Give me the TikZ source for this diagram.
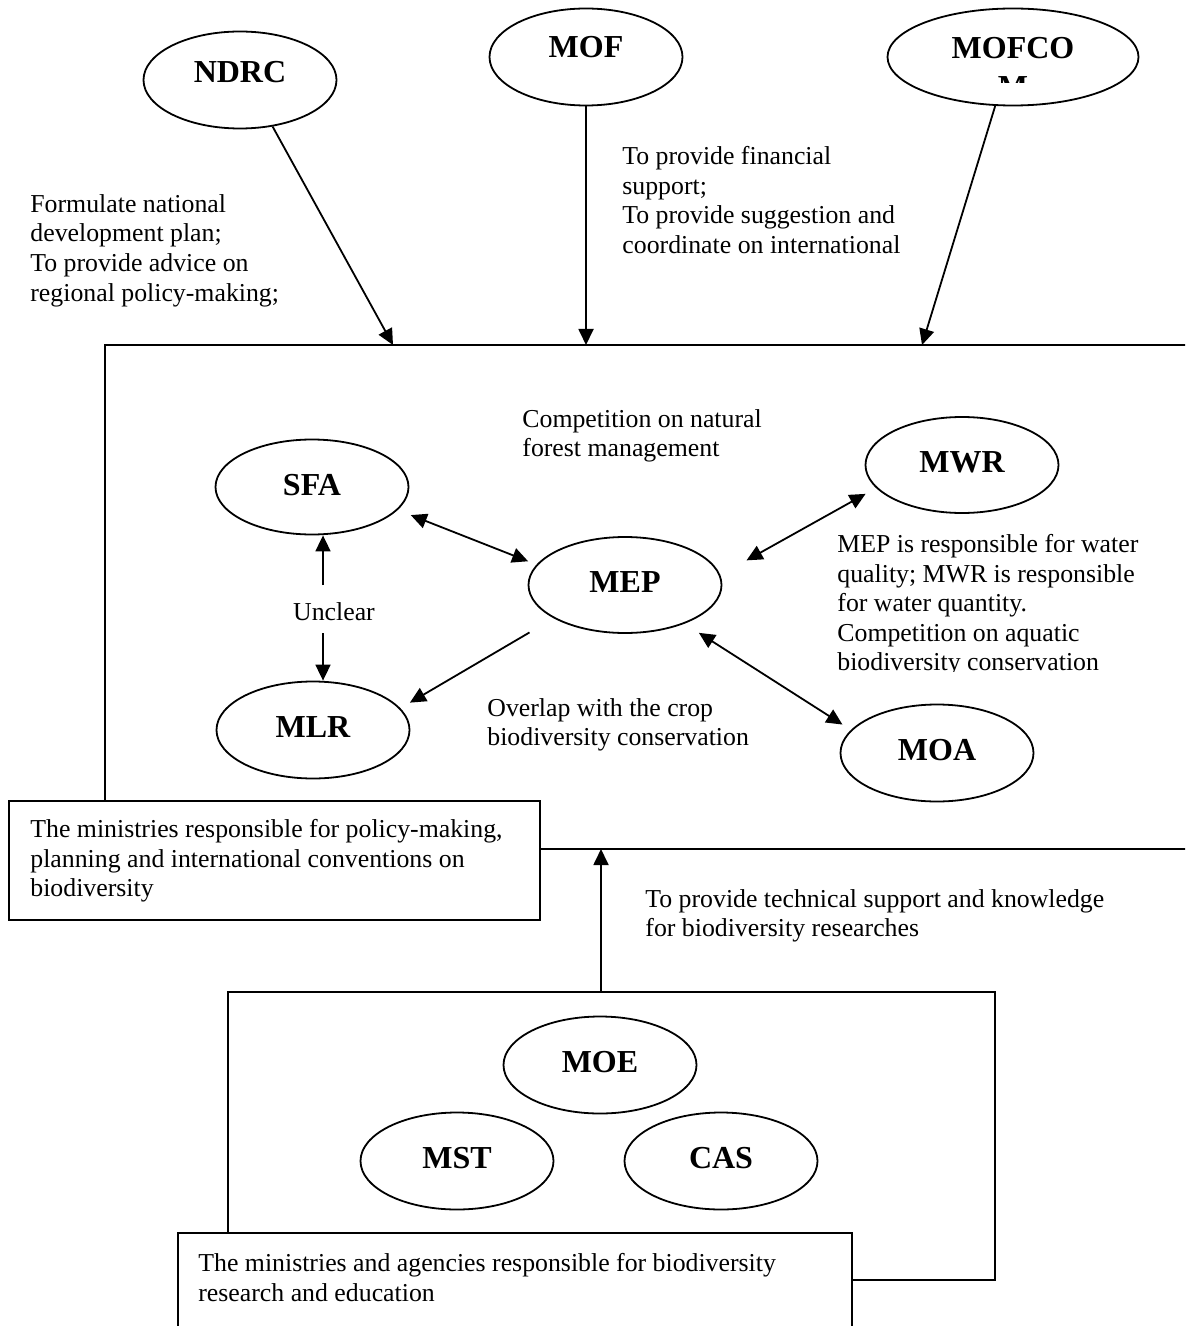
\documentclass[tikz,border=0pt]{standalone}
\usepackage{fontspec}
\setmainfont{Liberation Serif}
\usetikzlibrary{arrows.meta,shapes.geometric}
\begin{document}
\begin{tikzpicture}[x=0.5pt,y=-0.5pt,
  ell/.style={draw, ellipse, line width=0.9pt, minimum width=96.5pt, minimum height=48.5pt, inner sep=0pt},
  lab/.style={font=\fontsize{16}{19.5}\selectfont\bfseries, anchor=base, inner sep=0pt},
  txt/.style={font=\fontsize{12.9}{14.8}\selectfont, anchor=north west, align=left, inner sep=0pt},
  conn/.style={line width=0.9pt},
  arr/.style={conn, -{Triangle[length=8pt,width=7.5pt]}},
  dbl/.style={conn, {Triangle[length=8pt,width=7.5pt]}-{Triangle[length=8pt,width=7.5pt]}},
  boxfill/.style={draw, line width=0.9pt, fill=white}]
\useasboundingbox (0,0) rectangle (1185,1326);
\clip (0,0) rectangle (1185,1326);
\fill[white] (0,0) rectangle (1185,1326);

% top ministries
\node[ell] (ndrc) at (240,80) {};
\node[lab] at (240,83) {NDRC};
\node[ell] (mof) at (586,57) {};
\node[lab] at (586,58) {MOF};
\node[ell, minimum width=125.5pt] (mofcom) at (1013,57) {};
\begin{scope}
\clip (890,20) rectangle (1140,83);
\node[lab, anchor=north, align=center] (mofcomlab) at (1013,37) {MOFCO\\M};
\end{scope}

% big box
\draw[conn] (105,345) rectangle (1240,849);
\coordinate (c1) at (393,345);
\coordinate (c2) at (587,345);
\coordinate (c3) at (922,345);
\coordinate (c4) at (601,849);

\node[txt] (ndrctext) at (30,194) {Formulate national\\development plan;\\To provide advice on\\regional policy-making;};
\node[txt] (moftext) at (622,146) {To provide financial\\support;\\To provide suggestion and\\coordinate on international};

\draw[arr] (ndrc.-55) -- (c1);
\draw[arr] (mof.south) -- (mof.south |- c2);
\draw[arr] (mofcom.-110) -- (c3);

% inner ministries
\node[ell, minimum height=47.5pt] (sfa) at (312,487) {};
\node[lab] at (312,495) {SFA};
\node[ell, minimum height=48pt] (mep) at (625,585) {};
\node[lab] at (625,592) {MEP};
\node[ell, minimum height=48pt] (mwr) at (962,465) {};
\node[lab] at (962,472) {MWR};
\node[ell] (mlr) at (313,730) {};
\node[lab] at (313,737) {MLR};
\node[ell] (moa) at (937,753) {};
\node[lab] at (937,760) {MOA};

\node[txt] (comptext) at (522,409) {Competition on natural\\forest management};
\begin{scope}
\clip (830,520) rectangle (1185,671);
\node[txt] (mwrtext) at (837,534) {MEP is responsible for water\\quality; MWR is responsible\\for water quantity.\\Competition on aquatic\\biodiversity conservation};
\end{scope}
\node[txt] (overlaptext) at (487,698) {Overlap with the crop\\biodiversity conservation};
\node[font=\fontsize{12.9}{14.8}\selectfont, inner sep=0pt] (unclear) at (334,612) {Unclear};

\draw[dbl, shorten <=7pt, shorten >=4.5pt] (sfa.-15) -- (mep.167);
\draw[dbl, shorten <=15pt, shorten >=6pt] (mep.6) -- (mwr.-165);
\draw[arr, shorten <=14pt, shorten >=5.5pt] (mep.-155) -- (mlr.14.5);
\draw[dbl, shorten <=8.5pt, shorten >=5pt] (mep.-33) -- (moa.165);
\coordinate (u1) at (323,585);
\coordinate (u2) at (323,633);
\draw[arr] (u1) -- (u1 |- sfa.south);
\draw[arr] (u2) -- (u2 |- mlr.north);

% policy box
\draw[boxfill] (9,801) rectangle (540,920);
\node[txt] (poltext) at (30,819) {The ministries responsible for policy-making,\\planning and international conventions on\\biodiversity};

% research group
\node[draw, line width=0.9pt, minimum width=383.5pt, minimum height=144pt, inner sep=0pt] (resbox) at (611.5,1136) {};
\draw[arr] (resbox.north -| c4) -- (c4);
\node[txt] (techtext) at (645,889) {To provide technical support and knowledge\\for biodiversity researches};

\node[ell] (moe) at (600,1065) {};
\node[lab] at (600,1072) {MOE};
\node[ell] (mst) at (457,1161) {};
\node[lab] at (457,1168) {MST};
\node[ell] (cas) at (721,1161) {};
\node[lab] at (721,1168) {CAS};

\draw[boxfill] (178,1233) rectangle (852,1400);
\node[txt] (restext) at (198,1253) {The ministries and agencies responsible for biodiversity\\research and education};
\end{tikzpicture}
\end{document}
